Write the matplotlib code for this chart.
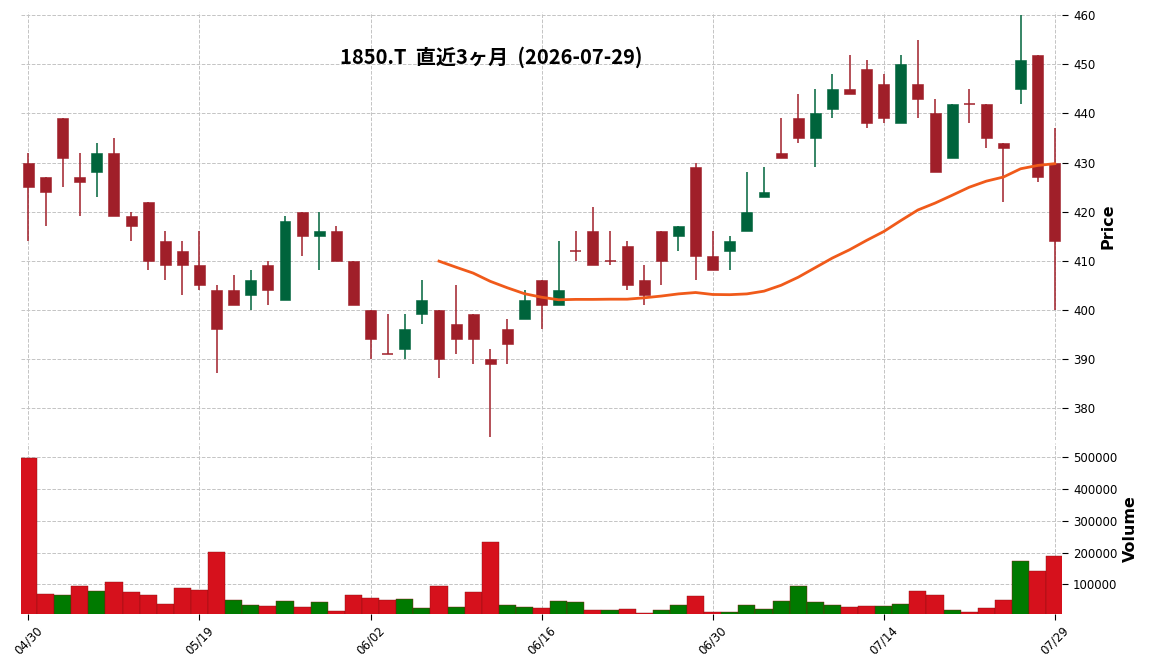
import numpy as np
import pandas as pd
import matplotlib
matplotlib.use('Agg')
import matplotlib.pyplot as plt

# OHLCV (61 trading days)
opens = [430, 427, 439, 427, 428, 432, 419, 422, 414, 412, 409, 404, 404, 403, 409, 402,
         420, 415, 416, 410, 400, 391, 392, 399, 400, 397, 399, 390, 396, 398, 406, 401,
         412, 416, 410, 413, 406, 416, 415, 429, 411, 412, 416, 423, 432, 439, 435, 441,
         445, 449, 446, 438, 446, 440, 431, 442, 442, 434, 445, 452, 430]
highs = [432, 427, 439, 432, 434, 435, 420, 422, 416, 414, 416, 405, 407, 408, 410, 419,
         420, 420, 417, 410, 400, 399, 399, 406, 400, 405, 399, 392, 398, 404, 406, 414,
         416, 421, 416, 414, 409, 416, 417, 430, 416, 415, 428, 429, 439, 444, 445, 448,
         452, 451, 448, 452, 455, 443, 442, 445, 442, 434, 460, 452, 437]
lows = [414, 417, 425, 419, 423, 419, 414, 408, 406, 403, 404, 387, 401, 400, 401, 402,
        411, 408, 410, 401, 390, 391, 390, 397, 386, 391, 389, 374, 389, 398, 396, 401,
        410, 409, 409, 404, 401, 405, 412, 406, 408, 408, 416, 423, 431, 434, 429, 439,
        444, 437, 438, 438, 439, 428, 431, 438, 433, 422, 442, 426, 400]
closes = [425, 424, 431, 426, 432, 419, 417, 410, 409, 409, 405, 396, 401, 406, 404, 418,
          415, 416, 410, 401, 394, 391, 396, 402, 390, 394, 394, 389, 393, 402, 401, 404,
          412, 409, 410, 405, 403, 410, 417, 411, 408, 414, 420, 424, 431, 435, 440, 445,
          444, 438, 439, 450, 443, 428, 442, 442, 435, 433, 451, 427, 414]
volumes = [498000, 71000, 67500, 96000, 80000, 108000, 77000, 67500, 39000, 89500, 83000,
           202600, 52000, 36000, 33000, 48700, 30000, 45500, 17000, 67500, 58000, 52000,
           55000, 26700, 95800, 30000, 77000, 234000, 36000, 30000, 26700, 48700, 45500,
           20400, 20400, 23600, 11000, 20400, 36000, 64400, 14000, 14000, 36000, 23600,
           48700, 95800, 45500, 36000, 30000, 33000, 33000, 39000, 80000, 67500, 20400,
           14000, 26700, 52000, 174000, 143000, 190000]
tick_labels = ['04/30', '05/19', '06/02', '06/16', '06/30', '07/14', '07/29']
title = '1850.T  直近3ヶ月  (2026-07-29)'

df = pd.DataFrame({'Open': opens, 'High': highs, 'Low': lows,
                   'Close': closes, 'Volume': volumes})
df['MA25'] = df['Close'].rolling(25).mean()
x = np.arange(len(df))

c_up, c_dn = '#00643c', '#a01f29'
v_up, v_dn = '#007a00', '#d6111c'
grid_kw = dict(color='#c4c4c4', linestyle='--', linewidth=0.7)

fig = plt.figure(figsize=(11.52, 6.71), dpi=100)
ax = fig.add_axes([0.018, 0.345, 0.9043, 0.6364])
axv = fig.add_axes([0.018, 0.0854, 0.9043, 0.2544], sharex=ax)

# candles
for i, r in df.iterrows():
    col = c_up if r.Close > r.Open else c_dn
    ax.vlines(i, r.Low, r.High, color=col, linewidth=1.1, zorder=2)
    h = abs(r.Close - r.Open)
    if h == 0:
        ax.hlines(r.Close, i - 0.32, i + 0.32, color=col, linewidth=1.1, zorder=3)
    else:
        ax.bar(i, h, bottom=min(r.Open, r.Close), width=0.64, color=col,
               edgecolor=col, linewidth=0.4, zorder=3)

ax.plot(x, df['MA25'], color='#f05a1a', linewidth=2, zorder=4)

# volume, coloured by close vs previous close
prev = df['Close'].shift(1)
vcols = [v_up if (not np.isnan(p) and c > p) else v_dn for c, p in zip(df['Close'], prev)]
axv.bar(x, df['Volume'], width=1.0, color=vcols, edgecolor='#8a1010', linewidth=0.3, zorder=3)

for a in (ax, axv):
    for s in a.spines.values():
        s.set_visible(False)
    a.yaxis.tick_right()
    a.yaxis.set_label_position('right')
    a.grid(True, **grid_kw)
    a.set_axisbelow(True)
    a.tick_params(axis='y', length=4, labelsize=8.5, colors='black')

ax.set_xlim(-0.45, 60.45)
ax.set_ylim(373.5, 460.6)
ax.set_yticks(np.arange(380, 461, 10))
ax.tick_params(axis='x', length=0, labelbottom=False)
ax.set_ylabel('Price', fontsize=11.5, fontweight='bold', labelpad=4)

axv.set_ylim(8000, 545000)
axv.set_yticks([100000, 200000, 300000, 400000, 500000])
axv.set_yticklabels(['100000', '200000', '300000', '400000', '500000'])
axv.set_xticks(np.arange(0, 61, 10))
axv.set_xticklabels(tick_labels, rotation=45, ha='center', fontsize=8.5)
axv.tick_params(axis='x', length=4)
axv.set_ylabel('Volume', fontsize=11.5, fontweight='bold', labelpad=4)

fig.text(491 / 1152, 1 - 57 / 671, title, ha='center', va='center', fontsize=14.5,
         fontweight='bold', family=['Noto Sans CJK JP', 'DejaVu Sans'])

fig.savefig('out.png', dpi=100)
